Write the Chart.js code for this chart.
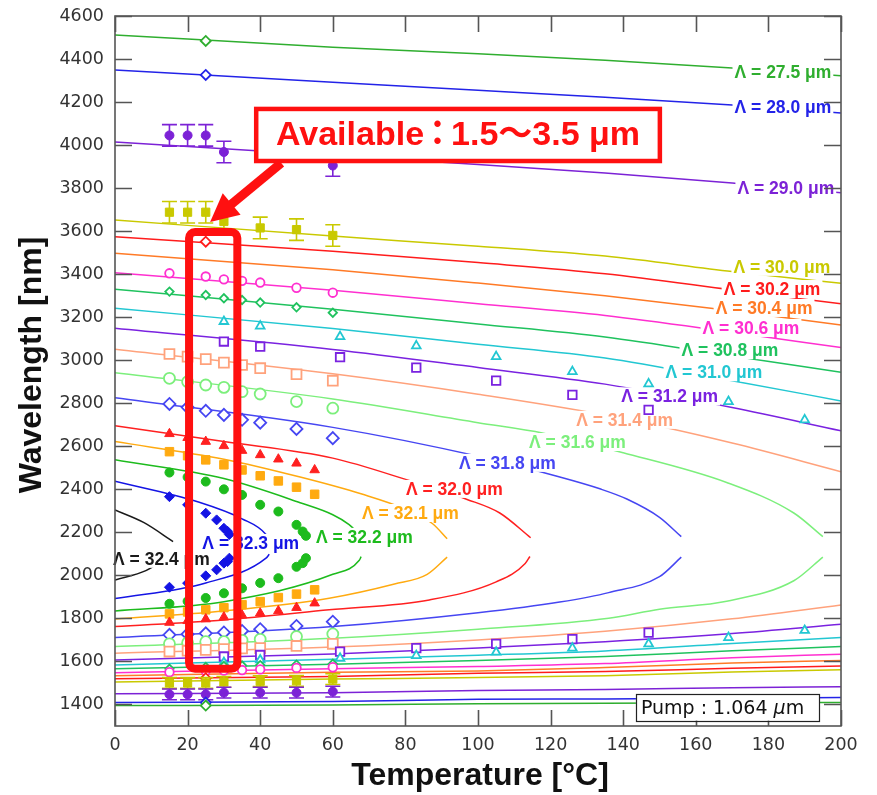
<!DOCTYPE html>
<html>
<head>
<meta charset="utf-8">
<script src="https://cdn.jsdelivr.net/npm/chart.js@4.4.0/dist/chart.umd.min.js"></script>
<style>
  html, body { margin: 0; padding: 0; background: #fff; }
  #wrap { width: 877px; height: 795px; }
</style>
</head>
<body>
<div id="wrap"><canvas id="c" width="877" height="795"></canvas></div>
<script>
// axis ticks
const tempTicks = [0, 20, 40, 60, 80, 100, 120, 140, 160, 180, 200];
const waveTicks = [1400, 1600, 1800, 2000, 2200, 2400, 2600, 2800, 3000, 3200, 3400, 3600, 3800, 4000, 4200, 4400, 4600];

// grating periods (um) and their colours
const periods = ['27.5', '28.0', '29.0', '30.0', '30.2', '30.4', '30.6', '30.8', '31.0', '31.2', '31.4', '31.6', '31.8', '32.0', '32.1', '32.2', '32.3', '32.4'];
const colors = ['#2fae2f', '#2323e8', '#7c22d6', '#c9c900', '#ff1c1c', '#ff7a26', '#ff2fd0', '#1fc25e', '#22c7d2', '#7a22e0', '#ffa27c', '#7cef7c', '#4646f2', '#ff2020', '#ffaa10', '#1dbb1d', '#1414e4', '#1a1a1a'];

// calculated tuning curves, idler (upper) and signal (lower), sampled at gridT
const gridT = [0, 60, 100, 135, 170, 200];
const idler275 = [4512, 4455, 4425, 4394, 4358, 4322];
const signal275 = [1395, 1398, 1403, 1406, 1408, 1409];
const idler280 = [4349, 4292, 4255, 4222, 4186, 4149];
const signal280 = [1409, 1414, 1424, 1426, 1430, 1432];
const idler290 = [4014, 3952, 3910, 3870, 3824, 3778];
const signal290 = [1450, 1455, 1465, 1470, 1478, 1483];
const idler300 = [3652, 3577, 3530, 3484, 3412, 3358];
const signal300 = [1505, 1518, 1525, 1534, 1551, 1561];
const idler302 = [3574, 3507, 3454, 3402, 3327, 3262];
const signal302 = [1520, 1530, 1545, 1553, 1568, 1579];
const idler304 = [3497, 3421, 3359, 3300, 3230, 3164];
const signal304 = [1533, 1550, 1556, 1572, 1593, 1604];
const idler306 = [3407, 3325, 3263, 3208, 3130, 3059];
const signal306 = [1548, 1566, 1577, 1590, 1617, 1634];
const idler308 = [3330, 3237, 3169, 3108, 3020, 2944];
const signal308 = [1566, 1587, 1604, 1623, 1650, 1669];
const idler310 = [3242, 3147, 3074, 3010, 2905, 2811];
const signal310 = [1584, 1610, 1629, 1649, 1684, 1711];
const idler312 = [3149, 3050, 2966, 2889, 2780, 2672];
const signal312 = [1607, 1635, 1662, 1692, 1730, 1773];
const idler314 = [3051, 2937, 2842, 2745, 2615, 2482];
const signal314 = [1638, 1667, 1700, 1740, 1798, 1863];

// curves that turn back near degeneracy (2128 nm)
const upT316 = [0, 60, 100, 118, 140, 168.5, 187, 195];
const up316 = [2942, 2820, 2710, 2661, 2570, 2432, 2290, 2180];
const loT316 = [0, 60, 100, 136, 150, 168.5, 187, 195];
const lo316 = [1669, 1708, 1750, 1801, 1843, 1880, 1975, 2085];
const upT318 = [0, 60, 101, 121, 134, 141, 150, 156];
const up318 = [2826, 2688, 2550, 2464, 2400, 2355, 2270, 2180];
const loT318 = [0, 60, 100, 122.5, 136, 150, 156];
const lo318 = [1711, 1762, 1826, 1876, 1920, 1994, 2085];
const upT320 = [0, 30, 60, 81, 97, 106, 114.5];
const up320 = [2696, 2622, 2545, 2441, 2353, 2290, 2175];
const loT320 = [0, 30, 59, 86.6, 105, 113, 114.3];
const lo320 = [1762, 1793, 1840, 1886, 1970, 2055, 2088];
const upT321 = [0, 30, 51, 68, 80, 87.5, 91.5];
const up321 = [2622, 2540, 2457, 2378, 2308, 2240, 2170];
const loT321 = [0, 30, 59, 77, 86, 91.5];
const lo321 = [1797, 1835, 1894, 1960, 2005, 2085];
const upT322 = [0, 30, 51, 60, 64.5, 67.6];
const up322 = [2537, 2450, 2338, 2282, 2236, 2185];
const loT322 = [0, 30, 60, 67.3, 67.8];
const lo322 = [1835, 1878, 2005, 2070, 2087];
const upT323 = [0, 23, 35, 41.6, 42.6];
const up323 = [2438, 2341, 2263, 2190, 2160];
const loT323 = [0, 25, 41.6, 42.5];
const lo323 = [1892, 1965, 2080, 2098];
const upT324 = [0, 8, 16];
const up324 = [2304, 2245, 2157];
const loT324 = [0, 8.5, 15];
const lo324 = [1979, 2022, 2090];

// measured points
const mT275 = [25], mUp275 = [4484], mLo275 = [1395];
const mT280 = [25], mUp280 = [4326], mLo280 = [1409];
const mUpT290 = [15, 20, 25, 30, 60], mUp290 = [4045, 4045, 4045, 3968, 3905];
const mLoT290 = [15, 20, 25, 30, 40, 50, 60], mLo290 = [1447, 1447, 1447, 1455, 1455, 1455, 1460];
const mT300 = [15, 20, 25, 30, 40, 50, 60];
const mUp300 = [3688, 3688, 3688, 3645, 3615, 3607, 3580];
const mLo300 = [1500, 1500, 1500, 1505, 1508, 1510, 1518];
const mT302 = [25], mUp302 = [3551], mLo302 = [1522];
const mT306 = [15, 25, 30, 35, 40, 50, 60];
const mUp306 = [3404, 3389, 3376, 3369, 3361, 3337, 3314];
const mLo306 = [1550, 1556, 1558, 1560, 1563, 1570, 1573];
const mT308 = [15, 25, 30, 35, 40, 50, 60];
const mUp308 = [3319, 3303, 3288, 3280, 3268, 3246, 3221];
const mLo308 = [1566, 1574, 1579, 1581, 1583, 1585, 1589];
const mT310 = [30, 40, 62, 83, 105, 126, 147, 169, 190];
const mUp310 = [3180, 3159, 3110, 3067, 3017, 2947, 2890, 2808, 2723];
const mLo310 = [1595, 1607, 1615, 1627, 1643, 1662, 1682, 1711, 1744];
const mT312 = [30, 40, 62, 83, 105, 126, 147];
const mUp312 = [3087, 3063, 3014, 2966, 2905, 2839, 2769];
const mLo312 = [1623, 1630, 1646, 1662, 1682, 1704, 1734];
const mT314 = [15, 20, 25, 30, 35, 40, 50, 60];
const mUp314 = [3029, 3017, 3005, 2989, 2978, 2963, 2935, 2905];
const mLo314 = [1646, 1650, 1654, 1658, 1661, 1662, 1672, 1682];
const mT316 = [15, 20, 25, 30, 35, 40, 50, 60];
const mUp316 = [2916, 2900, 2885, 2874, 2854, 2843, 2808, 2777];
const mLo316 = [1682, 1687, 1692, 1692, 1698, 1703, 1716, 1728];
const mT318 = [15, 20, 25, 30, 35, 40, 50, 60];
const mUp318 = [2797, 2781, 2765, 2746, 2723, 2710, 2681, 2638];
const mLo318 = [1724, 1727, 1731, 1735, 1742, 1750, 1765, 1785];
const mT320 = [15, 20, 25, 30, 35, 40, 45, 50, 55];
const mUp320 = [2658, 2640, 2622, 2602, 2580, 2560, 2540, 2521, 2490];
const mLo320 = [1781, 1789, 1797, 1806, 1815, 1824, 1835, 1850, 1871];
const mT321 = [15, 20, 25, 30, 35, 40, 45, 50, 55];
const mUp321 = [2575, 2556, 2537, 2514, 2490, 2463, 2439, 2410, 2377];
const mLo321 = [1821, 1830, 1840, 1850, 1864, 1878, 1897, 1913, 1933];
const mT322 = [15, 20, 25, 30, 35, 40, 45, 50, 51.7, 52.6];
const mUp322 = [2478, 2457, 2436, 2400, 2374, 2328, 2297, 2235, 2204, 2184];
const mLo322 = [1868, 1880, 1895, 1917, 1940, 1965, 1987, 2040, 2057, 2080];
const mT323 = [15, 20, 25, 28, 30, 31, 31.5];
const mUp323 = [2366, 2328, 2289, 2258, 2219, 2205, 2190];
const mLo323 = [1945, 1964, 1998, 2026, 2057, 2064, 2080];
const errUpper = 50, errLower = 25;

// curve labels (centre, in data units)
const labelT = [184, 184, 184.8, 183.7, 181, 178.8, 175.2, 169.4, 165, 152.8, 140.4, 127.4, 108.1, 93.5, 81.4, 68.7, 37.4, 12.8];
const labelWave = [4340, 4177, 3801, 3434, 3331, 3243, 3150, 3047, 2944, 2832, 2723, 2620, 2523, 2402, 2290, 2179, 2151, 2077];

const pts = (ts, ls) => ts.map((t, i) => ({ x: t, y: ls[i] }));
const col = p => colors[periods.indexOf(p)];

const line = (ts, ls, p) => ({
  type: 'line', data: pts(ts, ls), borderColor: col(p), borderWidth: 1.5,
  pointRadius: 0, cubicInterpolationMode: 'monotone', fill: false, order: 2
});
const mark = (data, p, style, r, filled, err) => ({
  type: 'line', showLine: false, data, kind: 'mark', err: err || 0,
  pointStyle: style, pointRadius: r, pointHoverRadius: r,
  pointBorderColor: col(p), pointBackgroundColor: filled ? col(p) : '#fff',
  pointBorderWidth: filled ? 1 : 1.8, borderColor: col(p), order: 1
});

const datasets = [
  line(gridT, idler275, '27.5'), line(gridT, signal275, '27.5'),
  line(gridT, idler280, '28.0'), line(gridT, signal280, '28.0'),
  line(gridT, idler290, '29.0'), line(gridT, signal290, '29.0'),
  line(gridT, idler300, '30.0'), line(gridT, signal300, '30.0'),
  line(gridT, idler302, '30.2'), line(gridT, signal302, '30.2'),
  line(gridT, idler304, '30.4'), line(gridT, signal304, '30.4'),
  line(gridT, idler306, '30.6'), line(gridT, signal306, '30.6'),
  line(gridT, idler308, '30.8'), line(gridT, signal308, '30.8'),
  line(gridT, idler310, '31.0'), line(gridT, signal310, '31.0'),
  line(gridT, idler312, '31.2'), line(gridT, signal312, '31.2'),
  line(gridT, idler314, '31.4'), line(gridT, signal314, '31.4'),
  line(upT316, up316, '31.6'), line(loT316, lo316, '31.6'),
  line(upT318, up318, '31.8'), line(loT318, lo318, '31.8'),
  line(upT320, up320, '32.0'), line(loT320, lo320, '32.0'),
  line(upT321, up321, '32.1'), line(loT321, lo321, '32.1'),
  line(upT322, up322, '32.2'), line(loT322, lo322, '32.2'),
  line(upT323, up323, '32.3'), line(loT323, lo323, '32.3'),
  line(upT324, up324, '32.4'), line(loT324, lo324, '32.4'),

  mark(pts(mT275, mUp275).concat(pts(mT275, mLo275)), '27.5', 'rectRot', 5, false),
  mark(pts(mT280, mUp280).concat(pts(mT280, mLo280)), '28.0', 'rectRot', 5, false),
  mark(pts(mUpT290, mUp290), '29.0', 'circle', 4.5, true, errUpper),
  mark(pts(mLoT290, mLo290), '29.0', 'circle', 4.5, true, errLower),
  mark(pts(mT300, mUp300), '30.0', 'rect', 5.8, true, errUpper),
  mark(pts(mT300, mLo300), '30.0', 'rect', 5.8, true, errLower),
  mark(pts(mT302, mUp302).concat(pts(mT302, mLo302)), '30.2', 'rectRot', 5, false),
  mark(pts(mT306, mUp306).concat(pts(mT306, mLo306)), '30.6', 'circle', 4.3, false),
  mark(pts(mT308, mUp308).concat(pts(mT308, mLo308)), '30.8', 'rectRot', 4.2, false),
  mark(pts(mT310, mUp310).concat(pts(mT310, mLo310)), '31.0', 'triangle', 5, false),
  mark(pts(mT312, mUp312).concat(pts(mT312, mLo312)), '31.2', 'rect', 6, false),
  mark(pts(mT314, mUp314).concat(pts(mT314, mLo314)), '31.4', 'rect', 7, false),
  mark(pts(mT316, mUp316).concat(pts(mT316, mLo316)), '31.6', 'circle', 5.5, false),
  mark(pts(mT318, mUp318).concat(pts(mT318, mLo318)), '31.8', 'rectRot', 6, false),
  mark(pts(mT320, mUp320).concat(pts(mT320, mLo320)), '32.0', 'triangle', 5.5, true),
  mark(pts(mT321, mUp321).concat(pts(mT321, mLo321)), '32.1', 'rect', 6, true),
  mark(pts(mT322, mUp322).concat(pts(mT322, mLo322)), '32.2', 'circle', 4.5, true),
  mark(pts(mT323, mUp323).concat(pts(mT323, mLo323)), '32.3', 'rectRot', 5, true)
];

const LABEL_FONT = 'bold 17.5px "Liberation Sans", Arial, sans-serif';

function drawLabels(chart) {
  const ctx = chart.ctx, xs = chart.scales.x, ys = chart.scales.y;
  ctx.save();
  ctx.font = LABEL_FONT;
  ctx.textAlign = 'center';
  ctx.textBaseline = 'middle';
  periods.forEach((p, i) => {
    const text = 'Λ = ' + p + ' μm';
    const x = xs.getPixelForValue(labelT[i]);
    const y = ys.getPixelForValue(labelWave[i]);
    const w = ctx.measureText(text).width;
    ctx.fillStyle = '#fff';
    ctx.fillRect(x - w / 2 - 2, y - 9, w + 4, 18);
    ctx.fillStyle = colors[i];
    ctx.fillText(text, x, y + 1);
  });
  ctx.restore();
}

const overlay = {
  id: 'overlay',
  beforeDraw(chart) { chart.$labelsDone = false; },
  beforeDatasetDraw(chart, args) {
    const ds = chart.data.datasets[args.index];
    if (ds.kind !== 'mark') return;
    if (!chart.$labelsDone) { drawLabels(chart); chart.$labelsDone = true; }
    if (!ds.err) return;
    const ctx = chart.ctx, xs = chart.scales.x, ys = chart.scales.y;
    ctx.save();
    ctx.strokeStyle = ds.pointBorderColor;
    ctx.lineWidth = 1.6;
    ds.data.forEach(d => {
      const x = xs.getPixelForValue(d.x);
      const y0 = ys.getPixelForValue(d.y - ds.err);
      const y1 = ys.getPixelForValue(d.y + ds.err);
      ctx.beginPath();
      ctx.moveTo(x, y0); ctx.lineTo(x, y1);
      ctx.moveTo(x - 7.5, y0); ctx.lineTo(x + 7.5, y0);
      ctx.moveTo(x - 7.5, y1); ctx.lineTo(x + 7.5, y1);
      ctx.stroke();
    });
    ctx.restore();
  },
  afterDraw(chart) {
    const ctx = chart.ctx, a = chart.chartArea;
    const xs = chart.scales.x, ys = chart.scales.y;
    ctx.save();
    // frame and inner ticks
    ctx.strokeStyle = '#555';
    ctx.lineWidth = 1.6;
    ctx.strokeRect(a.left, a.top, a.right - a.left, a.bottom - a.top);
    ctx.beginPath();
    tempTicks.forEach(t => {
      const x = Math.round(xs.getPixelForValue(t)) + 0.5;
      ctx.moveTo(x, a.bottom); ctx.lineTo(x, a.bottom - 16);
      ctx.moveTo(x, a.top); ctx.lineTo(x, a.top + 16);
    });
    waveTicks.forEach(w => {
      const y = Math.round(ys.getPixelForValue(w)) + 0.5;
      ctx.moveTo(a.left, y); ctx.lineTo(a.left + 17, y);
      ctx.moveTo(a.right, y); ctx.lineTo(a.right - 17, y);
    });
    ctx.stroke();

    // axis titles
    ctx.fillStyle = '#111';
    ctx.font = 'bold 32px "Liberation Sans", Arial, sans-serif';
    ctx.textAlign = 'center';
    ctx.textBaseline = 'middle';
    ctx.fillText('Temperature [°C]', (a.left + a.right) / 2 + 2, 776);
    ctx.save();
    ctx.translate(32, 365);
    ctx.rotate(-Math.PI / 2);
    ctx.fillText('Wavelength [nm]', 0, 0);
    ctx.restore();

    // pump box
    const px0 = xs.getPixelForValue(143.5), px1 = xs.getPixelForValue(194);
    const py0 = ys.getPixelForValue(1450), py1 = ys.getPixelForValue(1325);
    ctx.fillStyle = '#fff';
    ctx.fillRect(px0, py0, px1 - px0, py1 - py0);
    ctx.strokeStyle = '#222';
    ctx.lineWidth = 1.2;
    ctx.strokeRect(Math.round(px0) + 0.5, Math.round(py0) + 0.5, Math.round(px1 - px0), Math.round(py1 - py0));
    ctx.fillStyle = '#111';
    ctx.textAlign = 'left';
    ctx.textBaseline = 'alphabetic';
    ctx.font = '19px "DejaVu Sans", sans-serif';
    let tx = px0 + 5, ty = (py0 + py1) / 2 + 7;
    const s1 = 'Pump : 1.064 ';
    ctx.fillText(s1, tx, ty); tx += ctx.measureText(s1).width;
    ctx.font = 'italic 19px "DejaVu Sans", sans-serif';
    ctx.fillText('μ', tx, ty); tx += ctx.measureText('μ').width;
    ctx.font = '19px "DejaVu Sans", sans-serif';
    ctx.fillText('m', tx, ty);

    // highlighted range
    const red = '#ff1010';
    const rx0 = xs.getPixelForValue(20.4), rx1 = xs.getPixelForValue(33.7);
    const ry0 = ys.getPixelForValue(3596), ry1 = ys.getPixelForValue(1566);
    ctx.strokeStyle = red;
    ctx.lineWidth = 8;
    ctx.beginPath();
    ctx.roundRect(rx0, ry0, rx1 - rx0, ry1 - ry0, 6);
    ctx.stroke();

    // arrow
    const sx = xs.getPixelForValue(45.8), sy = ys.getPixelForValue(3917);
    const ex = xs.getPixelForValue(26.2), ey = ys.getPixelForValue(3643);
    const dx = ex - sx, dy = ey - sy, len = Math.hypot(dx, dy);
    const ux = dx / len, uy = dy / len;
    const bx = ex - 28 * ux, by = ey - 28 * uy;
    ctx.lineWidth = 9;
    ctx.beginPath();
    ctx.moveTo(sx, sy); ctx.lineTo(bx + 2 * ux, by + 2 * uy);
    ctx.stroke();
    ctx.fillStyle = red;
    ctx.beginPath();
    ctx.moveTo(ex, ey);
    ctx.lineTo(bx - uy * 14, by + ux * 14);
    ctx.lineTo(bx + uy * 14, by - ux * 14);
    ctx.closePath();
    ctx.fill();

    // title box; the full-width colon is given a narrower slot
    const bx0 = xs.getPixelForValue(38.9), bx1 = xs.getPixelForValue(150.1);
    const by0 = ys.getPixelForValue(4168), by1 = ys.getPixelForValue(3926);
    ctx.fillStyle = '#fff';
    ctx.fillRect(bx0, by0, bx1 - bx0, by1 - by0);
    ctx.lineWidth = 4.5;
    ctx.strokeRect(bx0, by0, bx1 - bx0, by1 - by0);
    ctx.fillStyle = red;
    ctx.font = 'bold 34px "Liberation Sans", "Noto Sans CJK JP", sans-serif';
    ctx.textBaseline = 'middle';
    const partA = 'Available', partC = '：', partB = '1.5～3.5 μm';
    const wA = ctx.measureText(partA).width, wB = ctx.measureText(partB).width, wC = 27;
    let cx = (bx0 + bx1) / 2 - (wA + wC + wB) / 2;
    const cy = (by0 + by1) / 2 + 1;
    ctx.textAlign = 'left';
    ctx.fillText(partA, cx, cy);
    ctx.textAlign = 'center';
    ctx.fillText(partC, cx + wA + wC / 2, cy);
    ctx.textAlign = 'left';
    ctx.fillText(partB, cx + wA + wC, cy);
    ctx.restore();
  }
};

new Chart(document.getElementById('c'), {
  type: 'line',
  data: { datasets },
  options: {
    responsive: false,
    animation: false,
    events: [],
    layout: { padding: { left: 0, right: 36, top: 16, bottom: 0 } },
    plugins: { legend: { display: false }, tooltip: { enabled: false } },
    scales: {
      x: {
        type: 'linear', min: 0, max: 200,
        afterBuildTicks: s => { s.ticks = tempTicks.map(v => ({ value: v })); },
        afterFit: s => { s.height = 69; s.paddingLeft = 0; s.paddingRight = 0; },
        grid: { display: false, drawTicks: false }, border: { display: false },
        ticks: { color: '#333', padding: 9, maxRotation: 0, font: { family: 'DejaVu Sans', size: 17.5 }, callback: v => String(v) }
      },
      y: {
        type: 'linear', min: 1300, max: 4600,
        afterBuildTicks: s => { s.ticks = waveTicks.map(v => ({ value: v })); },
        afterFit: s => { s.width = 115; s.paddingTop = 0; s.paddingBottom = 0; },
        grid: { display: false, drawTicks: false }, border: { display: false },
        ticks: { color: '#333', padding: 11, font: { family: 'DejaVu Sans', size: 17.5 }, callback: v => String(v) }
      }
    }
  },
  plugins: [overlay]
});
</script>
</body>
</html>
